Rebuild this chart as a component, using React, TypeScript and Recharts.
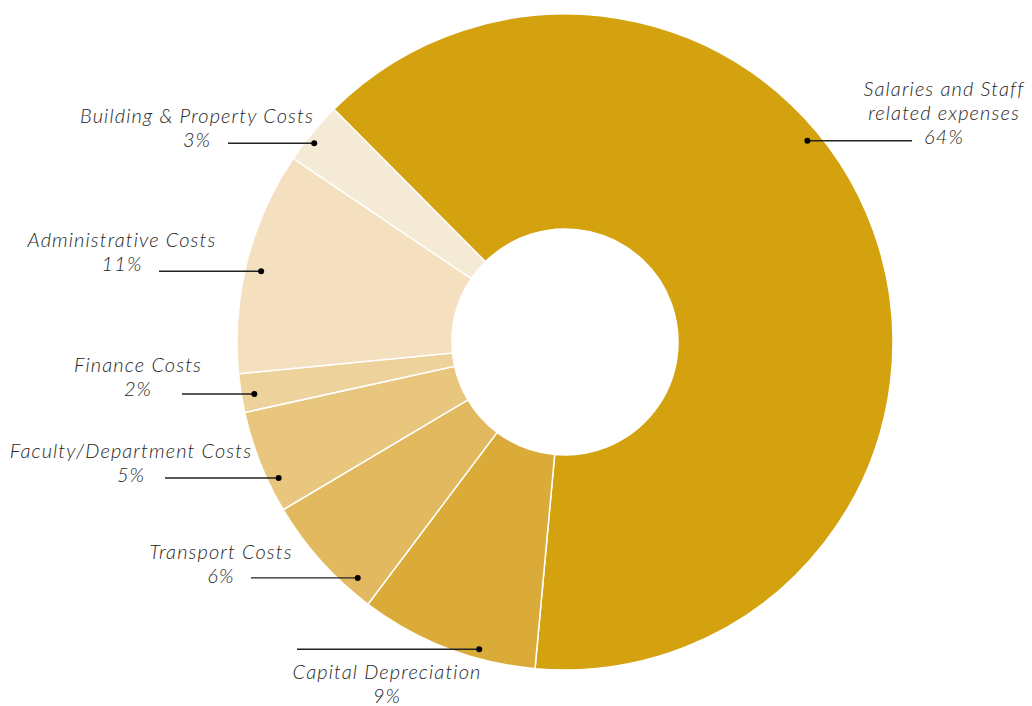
import React from 'react';
import { PieChart, Pie, Cell } from 'recharts';

const categories = [
  'Salaries and Staff related expenses',
  'Capital Depreciation',
  'Transport Costs',
  'Faculty/Department Costs',
  'Finance Costs',
  'Administrative Costs',
  'Building & Property Costs',
];
const values = [63.9, 8.8, 6.2, 5.1, 1.9, 11.0, 3.1];
const percentLabels = ['64%', '9%', '6%', '5%', '2%', '11%', '3%'];
const nameLines = [
  ['Salaries and Staff', 'related expenses'],
  ['Capital Depreciation'],
  ['Transport Costs'],
  ['Faculty/Department Costs'],
  ['Finance Costs'],
  ['Administrative Costs'],
  ['Building & Property Costs'],
];

const colors = ['#D4A20F', '#DBAB3A', '#E2B95E', '#E8C67D', '#EDD29C', '#F4DFBE', '#F5EAD5'];

// label layout: dot (polar, relative to pie centre), horizontal line end (x offset from centre),
// text centre x (offset from centre), text vertical nudge, whether the text sits below the line
const labelLayout = [
  { angle: 39.7, r: 315, lineX: 347, textX: 379, textDy: -1, below: false },
  { angle: -105.6, r: 319, lineX: -268, textX: -178, textDy: 2, below: true },
  { angle: -131.3, r: 314, lineX: -314, textX: -344, textDy: 1, below: false },
  { angle: -154.6, r: 317, lineX: -400, textX: -434, textDy: 0, below: false },
  { angle: -170.5, r: 315, lineX: -383, textX: -427, textDy: -2, below: false },
  { angle: 166.9, r: 312, lineX: -406, textX: -443, textDy: -4, below: false },
  { angle: 141.6, r: 320, lineX: -337, textX: -368, textDy: 0, below: false },
];

const data = categories.map((name, i) => ({ name, value: values[i] }));

const FONT = 'Lato, "Open Sans", sans-serif';

const renderLabel = (props: any) => {
  const { cx, cy, index } = props;
  const L = labelLayout[index];
  const rad = (L.angle * Math.PI) / 180;
  const dx = cx + L.r * Math.cos(rad);
  const dy = cy - L.r * Math.sin(rad);
  const lx = cx + L.lineX;
  const tx = cx + L.textX;
  const lines = [...nameLines[index], percentLabels[index]];
  const lh = 24;
  let baselines: number[];
  if (L.below) {
    baselines = lines.map((_, k) => dy + 28 + L.textDy + k * lh);
  } else {
    const last = dy + 4 + L.textDy;
    baselines = lines.map((_, k) => last - (lines.length - 1 - k) * lh);
  }
  return (
    <g key={`lbl-${index}`}>
      <line x1={lx} y1={dy} x2={dx} y2={dy} stroke="#222" strokeWidth={1.4} />
      <circle cx={dx} cy={dy} r={3} fill="#000" />
      {lines.map((t, k) => (
        <text
          key={k}
          x={tx}
          y={baselines[k]}
          textAnchor="middle"
          fontFamily={FONT}
          fontStyle="italic"
          fontWeight={300}
          fontSize={20}
          letterSpacing={1.1}
          fill="#262626"
        >
          {t}
        </text>
      ))}
    </g>
  );
};

export default function App() {
  return (
    <div style={{ position: 'absolute', left: 0, top: 0, width: 1032, height: 706, background: '#fff' }}>
      <PieChart width={1032} height={706} margin={{ top: 0, right: 0, bottom: 0, left: 0 }}>
        <Pie
          data={data}
          dataKey="value"
          nameKey="name"
          cx={565}
          cy={342}
          innerRadius={113}
          outerRadius={328}
          startAngle={134.8}
          endAngle={-225.2}
          stroke="#fff"
          strokeWidth={1.5}
          label={renderLabel}
          labelLine={false}
          isAnimationActive={false}
        >
          {data.map((d, i) => (
            <Cell key={d.name} fill={colors[i]} />
          ))}
        </Pie>
      </PieChart>
    </div>
  );
}
